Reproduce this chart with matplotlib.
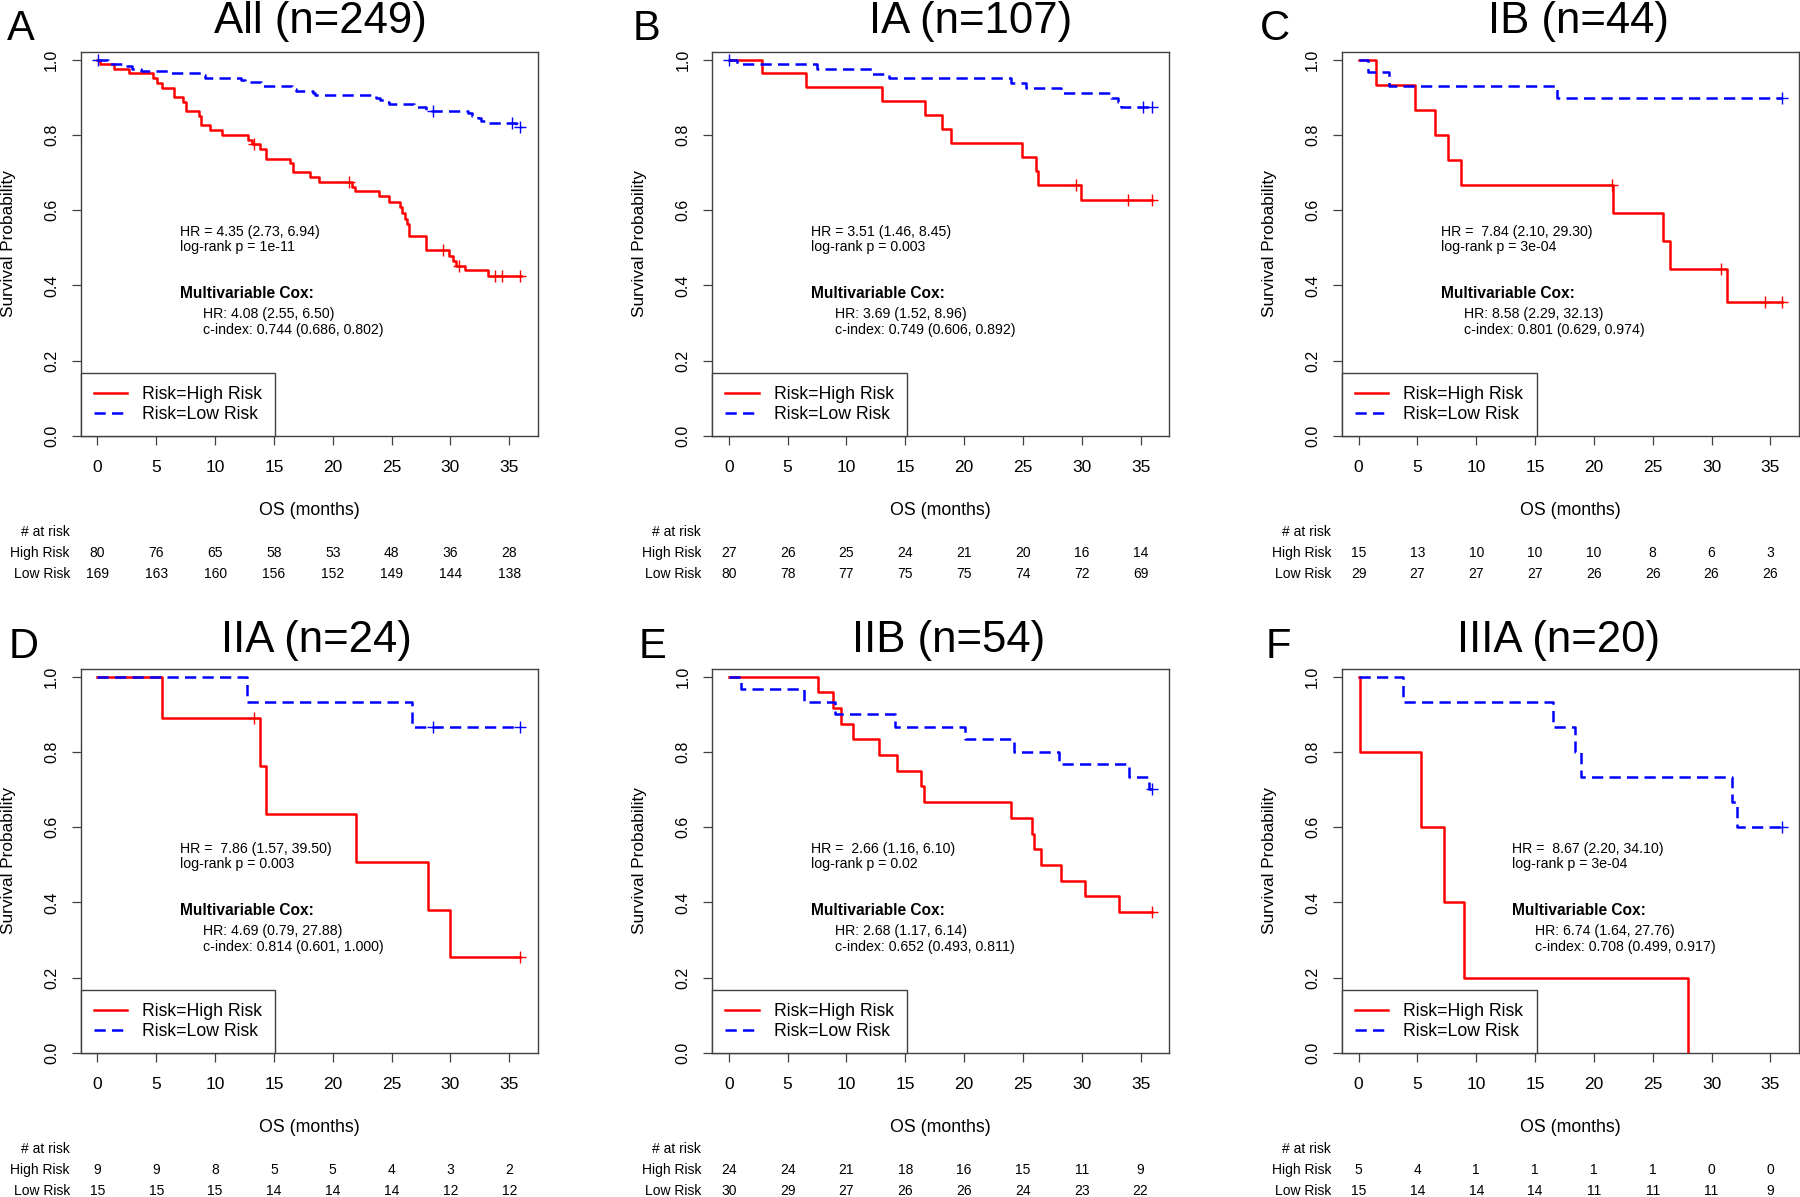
import numpy as np
import matplotlib.pyplot as plt
import matplotlib.transforms as mtransforms

plt.rcParams['font.family'] = ['Liberation Sans', 'DejaVu Sans']

# ---- data ----
risk_times = [0, 5, 10, 15, 20, 25, 30, 35]

titles = ["All (n=249)", "IA (n=107)", "IB (n=44)", "IIA (n=24)", "IIB (n=54)", "IIIA (n=20)"]
letters = ["A", "B", "C", "D", "E", "F"]

# panel A (All)
A_high_t = [0, 0.2, 1.4, 2.7, 4.7, 5.1, 5.5, 6.5, 7.3, 7.5, 8.6, 8.8, 9.6, 10.6, 12.8, 13.1, 13.8, 14.3,
            16.4, 16.6, 18.1, 18.8, 21.6, 21.9, 23.9, 24.8, 25.7, 25.9, 26.1, 26.3, 26.5, 27.9, 29.9,
            30.2, 30.5, 31.2, 33.2, 36.0]
A_high_s = [1.0, 0.988, 0.975, 0.963, 0.950, 0.938, 0.925, 0.900, 0.888, 0.863, 0.850, 0.825, 0.813,
            0.800, 0.787, 0.775, 0.762, 0.737, 0.725, 0.700, 0.687, 0.675, 0.662, 0.650, 0.637, 0.622,
            0.607, 0.592, 0.577, 0.562, 0.531, 0.493, 0.478, 0.464, 0.452, 0.440, 0.425, 0.425]
A_high_c = [13.3, 21.4, 29.4, 30.7, 33.8, 34.4, 35.9]
A_low_t = [0, 0.9, 2.4, 2.9, 3.7, 6.1, 8.9, 9.1, 12.2, 12.5, 13.9, 16.5, 16.9, 18.3, 18.5, 23.7, 24.0,
           24.5, 24.8, 26.9, 27.9, 31.5, 31.8, 32.3, 32.6, 33.1, 35.6, 36.0]
A_low_s = [1.0, 0.988, 0.982, 0.976, 0.970, 0.964, 0.958, 0.952, 0.946, 0.940, 0.929, 0.923, 0.917,
           0.911, 0.905, 0.899, 0.893, 0.887, 0.881, 0.875, 0.863, 0.857, 0.850, 0.844, 0.838, 0.832,
           0.822, 0.822]
A_low_c = [0.05, 28.5, 35.2, 35.9]
A_high_risk = [80, 76, 65, 58, 53, 48, 36, 28]
A_low_risk = [169, 163, 160, 156, 152, 149, 144, 138]

# panel B (IA)
B_high_t = [0, 2.83, 6.6, 13.0, 16.7, 18.1, 18.9, 24.9, 26.1, 26.3, 29.9, 36.0]
B_high_s = [1.0, 0.963, 0.926, 0.889, 0.852, 0.815, 0.778, 0.741, 0.704, 0.667, 0.627, 0.627]
B_high_c = [29.5, 33.9, 36.0]
B_low_t = [0, 0.7, 7.5, 12.2, 13.6, 24.0, 25.3, 28.2, 32.5, 33.1, 33.3, 36.0]
B_low_s = [1.0, 0.988, 0.975, 0.962, 0.950, 0.937, 0.924, 0.911, 0.898, 0.886, 0.873, 0.873]
B_low_c = [0.05, 35.2, 36.0]
B_high_risk = [27, 26, 25, 24, 21, 20, 16, 14]
B_low_risk = [80, 78, 77, 75, 75, 74, 72, 69]

# panel C (IB)
C_high_t = [0, 1.46, 4.8, 6.5, 7.6, 8.7, 21.6, 25.9, 26.5, 31.3, 36.0]
C_high_s = [1.0, 0.933, 0.867, 0.800, 0.733, 0.667, 0.593, 0.519, 0.444, 0.356, 0.356]
C_high_c = [21.5, 30.8, 34.5, 36.0]
C_low_t = [0, 0.8, 2.6, 16.9, 36.0]
C_low_s = [1.0, 0.966, 0.931, 0.897, 0.897]
C_low_c = [36.0]
C_high_risk = [15, 13, 10, 10, 10, 8, 6, 3]
C_low_risk = [29, 27, 27, 27, 26, 26, 26, 26]

# panel D (IIA)
D_high_t = [0, 5.5, 13.8, 14.3, 22.0, 28.1, 30.0, 35.9]
D_high_s = [1.0, 0.889, 0.762, 0.635, 0.508, 0.381, 0.254, 0.254]
D_high_c = [13.3, 35.9]
D_low_t = [0, 12.7, 26.7, 35.9]
D_low_s = [1.0, 0.933, 0.867, 0.867]
D_low_c = [28.5, 35.9]
D_high_risk = [9, 9, 8, 5, 5, 4, 3, 2]
D_low_risk = [15, 15, 15, 14, 14, 14, 12, 12]

# panel E (IIB)
E_high_t = [0, 7.55, 8.9, 9.5, 10.6, 12.8, 14.3, 16.3, 16.6, 24.0, 25.8, 25.9, 26.5, 28.2, 30.3,
            33.2, 36.0]
E_high_s = [1.0, 0.958, 0.917, 0.875, 0.833, 0.792, 0.750, 0.708, 0.667, 0.625, 0.583, 0.542, 0.500,
            0.458, 0.417, 0.375, 0.375]
E_high_c = [36.0]
E_low_t = [0, 1.0, 6.4, 9.0, 14.1, 20.1, 24.2, 28.1, 34.0, 35.7, 36.0]
E_low_s = [1.0, 0.967, 0.933, 0.900, 0.867, 0.833, 0.800, 0.767, 0.733, 0.700, 0.700]
E_low_c = [36.0]
E_high_risk = [24, 24, 21, 18, 16, 15, 11, 9]
E_low_risk = [30, 29, 27, 26, 26, 24, 23, 22]

# panel F (IIIA)
F_high_t = [0, 0.1, 5.3, 7.3, 9.0, 28.0]
F_high_s = [1.0, 0.8, 0.6, 0.4, 0.2, 0.0]
F_high_c = []
F_low_t = [0, 3.8, 16.5, 18.4, 18.9, 31.7, 32.2, 36.0]
F_low_s = [1.0, 0.933, 0.867, 0.800, 0.733, 0.667, 0.600, 0.600]
F_low_c = [36.0]
F_high_risk = [5, 4, 1, 1, 1, 1, 0, 0]
F_low_risk = [15, 14, 14, 14, 11, 11, 11, 9]

hr_text = ["HR = 4.35 (2.73, 6.94)", "HR = 3.51 (1.46, 8.45)", "HR =  7.84 (2.10, 29.30)",
           "HR =  7.86 (1.57, 39.50)", "HR =  2.66 (1.16, 6.10)", "HR =  8.67 (2.20, 34.10)"]
p_text = ["log-rank p = 1e-11", "log-rank p = 0.003", "log-rank p = 3e-04",
          "log-rank p = 0.003", "log-rank p = 0.02", "log-rank p = 3e-04"]
cox_hr = ["HR: 4.08 (2.55, 6.50)", "HR: 3.69 (1.52, 8.96)", "HR: 8.58 (2.29, 32.13)",
          "HR: 4.69 (0.79, 27.88)", "HR: 2.68 (1.17, 6.14)", "HR: 6.74 (1.64, 27.76)"]
cox_c = ["c-index: 0.744 (0.686, 0.802)", "c-index: 0.749 (0.606, 0.892)", "c-index: 0.801 (0.629, 0.974)",
         "c-index: 0.814 (0.601, 1.000)", "c-index: 0.652 (0.493, 0.811)", "c-index: 0.708 (0.499, 0.917)"]
text_x = [7, 7, 7, 7, 7, 13]

panels = [
    (A_high_t, A_high_s, A_high_c, A_low_t, A_low_s, A_low_c, A_high_risk, A_low_risk),
    (B_high_t, B_high_s, B_high_c, B_low_t, B_low_s, B_low_c, B_high_risk, B_low_risk),
    (C_high_t, C_high_s, C_high_c, C_low_t, C_low_s, C_low_c, C_high_risk, C_low_risk),
    (D_high_t, D_high_s, D_high_c, D_low_t, D_low_s, D_low_c, D_high_risk, D_low_risk),
    (E_high_t, E_high_s, E_high_c, E_low_t, E_low_s, E_low_c, E_high_risk, E_low_risk),
    (F_high_t, F_high_s, F_high_c, F_low_t, F_low_s, F_low_c, F_high_risk, F_low_risk),
]

# ---- layout (pixels in the 1800x1197 image) ----
W, H = 1800, 1197
lefts = [80.5, 711.8, 1341.6]
tops = [52, 669]
ax_w, ax_h = 457.5, 384
title_cx = [320.5, 970.2, 1578.8, 316.3, 948.2, 1558.8]
title_base = [33, 652]
letter_x = [7, 633, 1260, 9, 639, 1266]
letter_base = [40, 658]

RED = "#ff0000"
BLUE = "#0000ff"
EDGE = "#404040"


def surv_at(t, ts, ss):
    i = np.searchsorted(ts, t, side="right") - 1
    return ss[i]


fig = plt.figure(figsize=(18, 11.97), dpi=100)

for k, (ht, hs, hc, lt, ls, lc, hr_risk, lr_risk) in enumerate(panels):
    row, col = divmod(k, 3)
    left = lefts[col]
    top = tops[row]
    ax = fig.add_axes([left / W, 1 - (top + ax_h) / H, ax_w / W, ax_h / H])

    l1, = ax.step(ht, hs, where="post", color=RED, lw=1.8, label="Risk=High Risk")
    l2, = ax.step(lt, ls, where="post", color=BLUE, lw=1.8, ls=(0, (4.5, 2.5)), label="Risk=Low Risk")
    if hc:
        ax.plot(hc, [surv_at(c, ht, hs) for c in hc], ls="none", marker="+", ms=9, mew=1.0, color=RED)
    if lc:
        ax.plot(lc, [surv_at(c, lt, ls) for c in lc], ls="none", marker="+", ms=9, mew=1.0, color=BLUE)

    ax.set_xlim(-1.44, 37.44)
    ax.set_ylim(0, 1.02)
    ax.set_xticks(risk_times)
    ax.set_yticks([0, 0.2, 0.4, 0.6, 0.8, 1.0])
    ax.set_yticklabels(["0.0", "0.2", "0.4", "0.6", "0.8", "1.0"])
    ax.tick_params(axis="both", direction="out", length=6.5, width=0.9, color=EDGE)
    ax.tick_params(axis="x", pad=11, labelsize=12.5)
    ax.tick_params(axis="y", pad=9, labelsize=11.5)
    for lab in ax.get_yticklabels():
        lab.set_rotation(90)
        lab.set_va("center")
    for sp in ax.spines.values():
        sp.set_color(EDGE)
        sp.set_linewidth(1.0)

    ax.set_ylabel("Survival Probability", fontsize=12.4)
    ax.yaxis.set_label_coords(-0.158, 0.5)
    ax.yaxis.label.set_va("center")
    ax.set_xlabel("OS (months)", fontsize=12.8)
    ax.xaxis.set_label_coords(0.5, -0.195)
    ax.xaxis.label.set_va("center")

    tx = text_x[k]
    ax.text(tx, 0.542, hr_text[k], fontsize=10.2, va="center", ha="left")
    ax.text(tx, 0.502, p_text[k], fontsize=10.2, va="center", ha="left")
    ax.text(tx, 0.379, "Multivariable Cox:", fontsize=11.2, fontweight="bold", va="center", ha="left")
    ax.text(tx + 2, 0.323, cox_hr[k], fontsize=10.2, va="center", ha="left")
    ax.text(tx + 2, 0.281, cox_c[k], fontsize=10.2, va="center", ha="left")

    leg = ax.legend(handles=[l1, l2], loc="lower left", bbox_to_anchor=(0, 0), borderaxespad=0,
                    fancybox=False, framealpha=1, edgecolor=EDGE, fontsize=12.7,
                    handlelength=1.9, handletextpad=0.85, borderpad=0.75, labelspacing=0.15)
    leg.get_frame().set_linewidth(1.0)

    # number at risk table
    tr = mtransforms.blended_transform_factory(ax.transData, ax.transAxes)
    lx = -10.5 / ax_w
    ax.text(lx, -0.25, "# at risk", transform=ax.transAxes, ha="right", va="center", fontsize=10)
    ax.text(lx, -0.3047, "High Risk", transform=ax.transAxes, ha="right", va="center", fontsize=10)
    ax.text(lx, -0.359, "Low Risk", transform=ax.transAxes, ha="right", va="center", fontsize=10)
    for t, a, b in zip(risk_times, hr_risk, lr_risk):
        ax.text(t, -0.3047, str(a), transform=tr, ha="center", va="center", fontsize=10)
        ax.text(t, -0.359, str(b), transform=tr, ha="center", va="center", fontsize=10)

    fig.text(title_cx[k] / W, 1 - title_base[row] / H, titles[k], fontsize=31.5, ha="center", va="baseline")
    fig.text(letter_x[k] / W, 1 - letter_base[row] / H, letters[k], fontsize=30, ha="left", va="baseline")

fig.savefig("out.png", dpi=100)
